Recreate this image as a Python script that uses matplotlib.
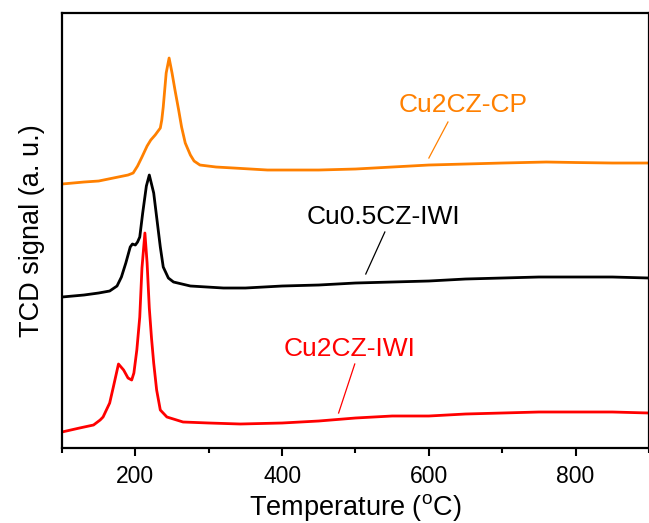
import matplotlib
matplotlib.use("Agg")
import matplotlib.pyplot as plt
from matplotlib.ticker import MultipleLocator

plt.rcParams['font.family'] = ['Liberation Sans', 'DejaVu Sans']
plt.rcParams['mathtext.fontset'] = 'custom'
plt.rcParams['mathtext.rm'] = 'Liberation Sans'

# TPR traces, signal in arbitrary units (stacked offsets as in the figure)
t_red = [100, 124, 143, 152, 156, 165, 170, 177, 184, 190, 195, 198, 202, 206, 209, 213,
         216, 219, 222, 225, 229, 234, 243, 265, 300, 343, 400, 450, 500, 550, 600, 650,
         700, 750, 800, 850, 900]
y_red = [16, 20, 23, 28, 31, 45, 61, 84, 78, 70, 68, 75, 98, 131, 180, 215,
         185, 140, 110, 85, 58, 38, 31, 26, 25, 24, 25, 27, 30, 32, 32, 34,
         35, 36, 36, 36, 35]

t_blk = [100, 130, 150, 165, 175, 181, 187, 193, 196, 200, 203, 206, 210, 215, 219, 222,
         225, 229, 234, 238, 245, 252, 275, 320, 350, 400, 450, 500, 550, 600, 650, 700,
         750, 800, 850, 900]
y_blk = [151, 153, 155, 157, 162, 171, 185, 201, 204, 203, 206, 211, 235, 262, 273, 264,
         255, 231, 201, 181, 170, 166, 162, 160, 160, 162, 163, 165, 166, 167, 169, 170,
         171, 171, 171, 170]

t_org = [100, 130, 150, 170, 190, 197, 203, 209, 216, 221, 227, 234, 236, 238, 242, 246,
         250, 254, 259, 263, 268, 275, 280, 288, 310, 334, 380, 425, 450, 500, 550, 600,
         650, 700, 760, 800, 850, 900]
y_org = [264, 266, 267, 270, 273, 275, 282, 291, 302, 308, 313, 320, 328, 341, 375, 390,
         375, 358, 338, 321, 305, 293, 287, 283, 281, 280, 278, 278, 278, 279, 281, 283,
         284, 285, 286, 285.5, 285, 285]

orange = '#FF8000'
red = '#FF0000'

fig = plt.figure(figsize=(6.49, 5.23), dpi=100)
ax = fig.add_axes([0.0955, 0.1434, 0.9045, 0.8317])

ax.plot(t_org, y_org, color=orange, lw=2.0)
ax.plot(t_blk, y_blk, color='black', lw=2.0)
ax.plot(t_red, y_red, color=red, lw=2.0)

# labels with leader lines
ax.text(647, 343, 'Cu2CZ-CP', color=orange, fontsize=19, ha='center', va='center')
ax.plot([626, 600], [326, 290], color=orange, lw=0.9)
ax.text(538, 231, 'Cu0.5CZ-IWI', color='black', fontsize=19, ha='center', va='center')
ax.plot([540, 514], [216, 174], color='black', lw=0.9)
ax.text(492, 99, 'Cu2CZ-IWI', color=red, fontsize=19, ha='center', va='center')
ax.plot([499, 477], [84, 35], color=red, lw=0.9)

ax.set_xlim(100, 900)
ax.set_ylim(0, 435)
ax.set_yticks([])
ax.xaxis.set_minor_locator(MultipleLocator(100))
ax.set_xticks([200, 400, 600, 800])
ax.tick_params(axis='x', which='major', direction='out', length=6, width=1.5,
               labelsize=16.5, pad=6)
ax.tick_params(axis='x', which='minor', direction='out', length=3.5, width=1.5)
for s in ax.spines.values():
    s.set_linewidth(1.6)

ax.set_xlabel('Temperature ($^{\\mathrm{o}}$C)', fontsize=19.5, labelpad=3)
ax.set_ylabel('TCD signal (a. u.)', fontsize=19.5, labelpad=12)

fig.savefig('out.png', dpi=100)
